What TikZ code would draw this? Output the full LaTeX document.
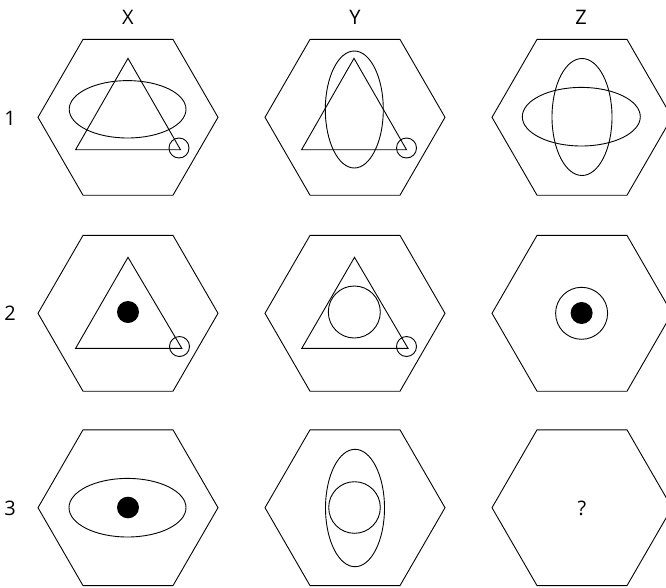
\documentclass[tikz,border=0pt]{standalone}
\usepackage{fontspec}
\setmainfont{Open Sans}
\begin{document}
\begin{tikzpicture}[x=1pt,y=-1pt,line width=0.9pt,
  lab/.style={font=\fontsize{20}{24}\selectfont,inner sep=0pt},
  outline/.style={draw},
  blackdot/.style={fill=black},
  hexpic/.pic={\draw[outline] (-90,0) -- (-45,-77.9) -- (45,-77.9) -- (90,0) -- (45,77.9) -- (-45,77.9) -- cycle;}]
\useasboundingbox (0,0) rectangle (666,587);
\clip (0,0) rectangle (666,587);
% column and row labels
\node[lab] (cx) at (128,17) {X};
\node[lab] (cy) at (355,17) {Y};
\node[lab] (cz) at (581,17) {Z};
\node[lab] (r1) at (10,118) {1};
\node[lab] (r2) at (10,313) {2};
\node[lab] (r3) at (10,508) {3};
% hexagons
\foreach \cxx in {128,355,582}{
  \foreach \cyy in {117.3,313.3,507.7}{
    \pic at (\cxx,\cyy) {hexpic};
  }
}
% row 1, X
\draw[outline] (128,58.3) -- (180.5,149.7) -- (75.6,149.7) -- cycle;
\draw[outline] (127.6,109.3) ellipse [x radius=58.4, y radius=28.7];
\draw[outline] (179,148) circle [radius=10];
% row 1, Y
\draw[outline] (354,58.3) -- (406.5,149.7) -- (301.6,149.7) -- cycle;
\draw[outline] (354.3,109.5) ellipse [x radius=29, y radius=58.5];
\draw[outline] (406.5,148) circle [radius=10];
% row 1, Z
\draw[outline] (581.3,116.7) ellipse [x radius=59, y radius=29.3];
\draw[outline] (582,117) ellipse [x radius=30, y radius=58.5];
% row 2, X
\draw[outline] (128,257.3) -- (181.8,348.3) -- (75.6,348.3) -- cycle;
\fill[blackdot] (128,312) circle [radius=11];
\draw[outline] (179.5,346.5) circle [radius=10];
% row 2, Y
\draw[outline] (354.5,257.3) -- (408,348.3) -- (301.8,348.3) -- cycle;
\draw[outline] (354.3,312) circle [radius=26];
\draw[outline] (406.5,346.5) circle [radius=10];
% row 2, Z
\draw[outline] (581.6,313.3) circle [radius=26];
\fill[blackdot] (581.6,313) circle [radius=11];
% row 3, X
\draw[outline] (127.5,507.7) ellipse [x radius=58.5, y radius=29.3];
\fill[blackdot] (128,507.5) ellipse [x radius=11, y radius=10.8];
% row 3, Y
\draw[outline] (355,508) ellipse [x radius=29.5, y radius=58.7];
\draw[outline] (354.5,507.5) circle [radius=25.8];
% row 3, Z
\node[lab] (q) at (582,508) {?};
\end{tikzpicture}
\end{document}
